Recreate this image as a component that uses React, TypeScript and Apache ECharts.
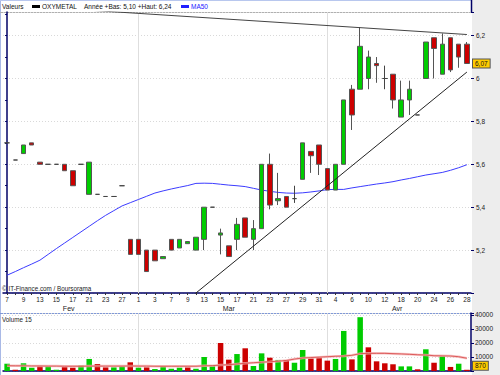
import React, { useEffect, useRef } from "react";
import * as echarts from "echarts";

// ---- data ----
const dates = [
  "2006-02-07","2006-02-08","2006-02-09","2006-02-10","2006-02-13","2006-02-14","2006-02-15","2006-02-16",
  "2006-02-17","2006-02-20","2006-02-21","2006-02-22","2006-02-23","2006-02-24","2006-02-27","2006-02-28",
  "2006-03-01","2006-03-02","2006-03-03","2006-03-06","2006-03-07","2006-03-08","2006-03-09","2006-03-10",
  "2006-03-13","2006-03-14","2006-03-15","2006-03-16","2006-03-17","2006-03-20","2006-03-21","2006-03-22",
  "2006-03-23","2006-03-24","2006-03-27","2006-03-28","2006-03-29","2006-03-30","2006-03-31",
  "2006-04-03","2006-04-04","2006-04-05","2006-04-06","2006-04-07","2006-04-10","2006-04-11","2006-04-12",
  "2006-04-13","2006-04-18","2006-04-19","2006-04-20","2006-04-21","2006-04-24","2006-04-25","2006-04-26",
  "2006-04-27","2006-04-28",
];

const opens = [
  5.70, 5.62, 5.65, 5.70, 5.61, 5.60, 5.60, 5.60, 5.57, 5.60, 5.46, 5.46, 5.45, 5.45, 5.50, 5.25,
  5.25, 5.20, 5.20, 5.16, 5.25, 5.21, 5.23, 5.20, 5.25, 5.40, 5.27, 5.22, 5.25, 5.35, 5.25, 5.30,
  5.60, 5.43, 5.45, 5.44, 5.53, 5.66, 5.69, 5.58, 5.48, 5.60, 5.95, 5.95, 6.00, 6.07, 6.00, 6.02,
  5.82, 5.90, 5.83, 6.00, 6.19, 6.02, 6.19, 6.16, 6.16,
];
const closes = [
  5.70, 5.62, 5.69, 5.69, 5.60, 5.60, 5.60, 5.57, 5.50, 5.60, 5.61, 5.46, 5.45, 5.45, 5.50, 5.18,
  5.18, 5.10, 5.15, 5.17, 5.20, 5.25, 5.24, 5.26, 5.40, 5.40, 5.28, 5.17, 5.32, 5.26, 5.30, 5.60,
  5.41, 5.44, 5.40, 5.44, 5.70, 5.64, 5.60, 5.48, 5.60, 5.90, 5.83, 6.15, 6.10, 6.06, 6.00, 5.90,
  5.90, 5.95, 5.83, 6.17, 6.14, 6.16, 6.04, 6.10, 6.07,
];
const lows = [
  5.70, 5.62, 5.65, 5.69, 5.60, 5.60, 5.60, 5.57, 5.50, 5.60, 5.46, 5.46, 5.45, 5.45, 5.50, 5.18,
  5.18, 5.10, 5.15, 5.16, 5.20, 5.21, 5.23, 5.20, 5.20, 5.40, 5.18, 5.17, 5.20, 5.26, 5.20, 5.30,
  5.39, 5.41, 5.40, 5.42, 5.53, 5.56, 5.55, 5.48, 5.48, 5.60, 5.76, 5.95, 5.95, 5.98, 5.95, 5.86,
  5.82, 5.83, 5.83, 6.00, 6.00, 6.02, 6.03, 6.05, 6.07,
];
const highs = [
  5.70, 5.62, 5.69, 5.70, 5.61, 5.60, 5.60, 5.60, 5.57, 5.60, 5.61, 5.46, 5.45, 5.45, 5.50, 5.25,
  5.25, 5.20, 5.20, 5.17, 5.25, 5.25, 5.24, 5.26, 5.40, 5.40, 5.30, 5.22, 5.35, 5.35, 5.34, 5.60,
  5.65, 5.56, 5.45, 5.50, 5.70, 5.66, 5.69, 5.58, 5.60, 5.90, 5.97, 6.24, 6.13, 6.10, 6.06, 6.02,
  5.99, 5.99, 5.83, 6.17, 6.19, 6.21, 6.19, 6.16, 6.17,
];
const ma50 = [
  5.083, 5.100, 5.118, 5.135, 5.153, 5.180, 5.207, 5.233, 5.259, 5.285, 5.311, 5.337, 5.362, 5.384,
  5.406, 5.421, 5.436, 5.451, 5.466, 5.476, 5.485, 5.493, 5.501, 5.511, 5.512, 5.511, 5.507, 5.503,
  5.500, 5.496, 5.488, 5.480, 5.474, 5.469, 5.466, 5.465, 5.467, 5.471, 5.476, 5.482, 5.483, 5.483,
  5.490, 5.496, 5.502, 5.508, 5.513, 5.519, 5.527, 5.534, 5.542, 5.550, 5.556, 5.562, 5.572, 5.584,
  5.598,
];
const volumes = [
  5200, 900, 5500, 2400, 3300, 3300, 900, 2900, 2400, 4000, 8600, 5000, 2600, 2600, 3300, 6200,
  2400, 2600, 1400, 3300, 1600, 2400, 2600, 1600, 10000, 4000, 20000, 8100, 12100, 16200, 3600, 12600,
  9500, 7900, 7900, 5900, 15000, 9000, 9500, 7400, 8600, 28600, 8300, 38400, 16900, 6900, 5500, 4800,
  3300, 3300, 1200, 15500, 5900, 10700, 2900, 5200, 870,
];
const volMa15 = [
  3800, 3700, 3700, 3600, 3600, 3500, 3500, 3400, 3400, 3400, 3500, 3500, 3500, 3500, 3500, 3600,
  3500, 3500, 3400, 3400, 3400, 3400, 3400, 3400, 3700, 3800, 4200, 4500, 5000, 5500, 5900, 6300,
  6600, 7000, 7500, 8500, 9300, 9600, 9900, 10200, 10500, 10700, 11200, 12400, 12600, 12600, 12600, 12400,
  12200, 11900, 11600, 11400, 10900, 10800, 10700, 10200, 9100,
];
// trend lines: value at first and at last trading day
const resistanceEnds = [6.343, 6.205];
const supportEnds = [4.282, 6.03];
const monthNames: Record<string, string> = { "01": "Jan", "02": "Fev", "03": "Mar", "04": "Avr", "05": "Mai" };

const FONT = "'Liberation Sans', Arial, sans-serif";
const GREEN = "#00cc00";
const RED = "#cc0000";
const NAVY = "#000066";

function fmtComma(v: number, d: number) {
  return v.toFixed(d).replace(".", ",");
}

export default function App() {
  const ref = useRef<HTMLDivElement>(null);

  useEffect(() => {
    document.body.style.margin = "0";
    if (!ref.current) return;
    const chart = echarts.init(ref.current, undefined, { renderer: "svg" });
    const n = dates.length;

    const candleData = dates.map((_, i) => [opens[i], closes[i], lows[i], highs[i]]);
    const volData = volumes.map((v, i) => ({
      value: v,
      itemStyle: { color: i === 0 || closes[i] >= closes[i - 1] ? GREEN : RED },
    }));
    const lastIdx = n - 1;
    const resistanceData = [[0, resistanceEnds[0]], [lastIdx, resistanceEnds[1]]];
    const supportData = [[0, supportEnds[0]], [lastIdx, supportEnds[1]]];

    // month groups
    const monthFirst: number[] = [];
    const monthMid: number[] = [];
    const monthLabel: string[] = [];
    let start = 0;
    for (let i = 1; i <= n; i++) {
      if (i === n || dates[i].slice(5, 7) !== dates[i - 1].slice(5, 7)) {
        monthMid.push((start + i - 1) / 2);
        monthLabel.push(monthNames[dates[start].slice(5, 7)] || "");
        if (start > 0) monthFirst.push(start);
        start = i;
      }
    }

    const low = Math.min(...lows);
    const high = Math.max(...highs);

    const monthLines = {
      silent: true,
      symbol: ["none", "none"],
      z: 1,
      label: { show: false },
      lineStyle: { color: "#dedede", type: "solid", width: 1 },
      data: monthFirst.map((i) => ({ xAxis: i })),
    };

    const valueBox = (text: string, offsetY: number) => ({
      show: true,
      position: "end",
      distance: 2,
      offset: [0, offsetY],
      formatter: text,
      backgroundColor: "#ffcc00",
      borderColor: "#555",
      borderWidth: 1,
      padding: [1, 2, 0, 2],
      color: "#111",
      fontSize: 6.5,
      fontFamily: FONT,
      opacity: 1,
    });

    const txt = (text: string, x: number, y: number, fill = "#111", size = 6.5) => ({
      type: "text",
      x,
      y,
      silent: true,
      style: { text, fill, fontSize: size, fontFamily: FONT, verticalAlign: "middle", align: "left" },
      z: 10,
    });

    const option: any = {
      animation: false,
      backgroundColor: "transparent",
      textStyle: { fontFamily: FONT },
      grid: [
        { left: 3, right: 29, top: 12, height: 281 },
        { left: 3, right: 29, top: 313, height: 58 },
      ],
      xAxis: [
        {
          type: "category",
          gridIndex: 0,
          data: dates,
          boundaryGap: true,
          axisLine: { show: true, lineStyle: { color: NAVY, width: 1.5 } },
          axisTick: { show: true, interval: 0, alignWithLabel: true, length: 2, lineStyle: { color: "#333" } },
          axisLabel: {
            interval: 1,
            margin: 3,
            fontSize: 6.5,
            color: "#222",
            fontFamily: FONT,
            formatter: (val: string) => String(Number(val.slice(8))),
          },
          splitLine: { show: false },
        },
        {
          type: "value",
          gridIndex: 0,
          position: "bottom",
          min: -0.5,
          max: n - 0.5,
          axisLine: { show: false },
          axisTick: { show: false },
          splitLine: { show: false },
          axisLabel: {
            customValues: monthMid,
            margin: 12,
            fontSize: 7,
            color: "#222",
            fontFamily: FONT,
            formatter: (v: number) => {
              const k = monthMid.findIndex((m) => Math.abs(m - v) < 1e-6);
              return k >= 0 ? monthLabel[k] : "";
            },
          },
        },
        {
          type: "category",
          gridIndex: 1,
          data: dates,
          boundaryGap: true,
          axisLine: { show: true, lineStyle: { color: NAVY, width: 1.5 } },
          axisTick: { show: false },
          axisLabel: { show: false },
          splitLine: { show: false },
        },
      ],
      yAxis: [
        {
          type: "value",
          gridIndex: 0,
          position: "right",
          min: 5,
          max: 6.31,
          interval: 0.1,
          axisLine: { show: true, lineStyle: { color: NAVY, width: 1.5 } },
          axisTick: { show: true, inside: true, length: 2, lineStyle: { color: NAVY } },
          axisLabel: {
            margin: 5,
            fontSize: 6.5,
            color: "#222",
            fontFamily: FONT,
            showMinLabel: false,
            showMaxLabel: false,
            formatter: (v: number) => {
              const t = Math.round(v * 10);
              if (Math.abs(v * 10 - t) > 1e-6 || t % 2 !== 0) return "";
              return String(t / 10).replace(".", ",");
            },
          },
          splitLine: { show: false },
        },
        {
          type: "value",
          gridIndex: 0,
          position: "right",
          min: 5,
          max: 6.31,
          interval: 0.2,
          axisLine: { show: false },
          axisLabel: { show: false },
          axisTick: { show: true, inside: false, length: 3, lineStyle: { color: NAVY } },
          splitLine: { show: true, lineStyle: { color: "#d9d9d9", type: [1, 2], width: 1 } },
        },
        {
          type: "value",
          gridIndex: 1,
          position: "right",
          min: 0,
          max: 41400,
          interval: 10000,
          axisLine: { show: true, lineStyle: { color: NAVY, width: 1.5 } },
          axisTick: { show: true, length: 3, lineStyle: { color: NAVY } },
          axisLabel: {
            margin: 4,
            fontSize: 6.5,
            color: "#222",
            fontFamily: FONT,
            formatter: (v: number) => (v > 0 && v % 10000 === 0 ? String(v) : ""),
          },
          splitLine: { show: true, lineStyle: { color: "#d9d9d9", type: [1, 2], width: 1 } },
        },
      ],
      series: [
        {
          name: "MA50",
          type: "line",
          xAxisIndex: 0,
          yAxisIndex: 0,
          data: ma50,
          symbol: "none",
          lineStyle: { color: "#3c3cff", width: 1 },
          z: 3,
          markLine: monthLines,
        },
        {
          name: "OXYMETAL",
          type: "candlestick",
          xAxisIndex: 0,
          yAxisIndex: 0,
          data: candleData,
          barWidth: 5,
          itemStyle: {
            color: GREEN,
            color0: RED,
            borderColor: "#555",
            borderColor0: "#555",
            borderColorDoji: "#444",
            borderWidth: 1,
          },
          z: 4,
          markLine: {
            silent: true,
            symbol: ["none", "none"],
            z: 10,
            lineStyle: { color: "rgba(0,0,0,0)", width: 1, type: "solid" },
            label: valueBox(fmtComma(closes[lastIdx], 2), 0),
            data: [{ yAxis: closes[lastIdx] }],
          },
        },
        {
          name: "resistance",
          type: "line",
          xAxisIndex: 0,
          yAxisIndex: 0,
          data: resistanceData,
          symbol: "none",
          clip: true,
          lineStyle: { color: "#444", width: 1 },
          z: 5,
        },
        {
          name: "support",
          type: "line",
          xAxisIndex: 0,
          yAxisIndex: 0,
          data: supportData,
          symbol: "none",
          clip: true,
          lineStyle: { color: "#222", width: 1 },
          z: 5,
        },
        {
          name: "Volume",
          type: "bar",
          xAxisIndex: 2,
          yAxisIndex: 2,
          data: volData,
          barWidth: 5.5,
          z: 3,
          markLine: monthLines,
        },
        {
          name: "volGlow",
          type: "line",
          xAxisIndex: 2,
          yAxisIndex: 2,
          data: volMa15,
          symbol: "none",
          lineStyle: { color: "#f4b4b4", width: 2.5, opacity: 0.8 },
          z: 4,
        },
        {
          name: "Volume 15",
          type: "line",
          xAxisIndex: 2,
          yAxisIndex: 2,
          data: volMa15,
          symbol: "none",
          lineStyle: { color: "#d64040", width: 0.8 },
          z: 5,
          markLine: {
            silent: true,
            symbol: ["none", "none"],
            z: 10,
            lineStyle: { color: "rgba(0,0,0,0)", width: 1, type: "solid" },
            label: valueBox(String(volumes[lastIdx]), -4),
            data: [{ yAxis: volumes[lastIdx] }],
          },
        },
      ],
      graphic: [
        { type: "line", silent: true, shape: { x1: 0.5, y1: 0, x2: 0.5, y2: 375 }, style: { stroke: "#a9b9e6", lineWidth: 1 } },
        { type: "line", silent: true, shape: { x1: 0, y1: 0.5, x2: 472, y2: 0.5 }, style: { stroke: "#b8c7ee", lineWidth: 1 } },
        { type: "line", silent: true, shape: { x1: 471.5, y1: 0, x2: 471.5, y2: 12 }, style: { stroke: NAVY, lineWidth: 1.5 } },
        { type: "line", silent: true, shape: { x1: 0, y1: 12.5, x2: 471, y2: 12.5 }, style: { stroke: "#b0b0b0", lineWidth: 1 } },
        { type: "line", silent: true, shape: { x1: 0, y1: 313.5, x2: 472, y2: 313.5 }, style: { stroke: "#7f98d8", lineWidth: 1 } },
        txt("Valeurs", 2, 6.5),
        { type: "rect", silent: true, shape: { x: 32, y: 5, width: 8, height: 3 }, style: { fill: "#000" } },
        txt("OXYMETAL", 42, 6.5),
        txt(`Année +Bas: ${fmtComma(low, 2)} +Haut: ${fmtComma(high, 2)}`, 84, 6.5),
        { type: "rect", silent: true, shape: { x: 181, y: 5, width: 8, height: 3 }, style: { fill: "#2020ff" } },
        txt("MA50", 191, 6.5, "#2020ff"),
        txt("© IT-Finance.com / Boursorama", 2, 288.5, "#222", 6.3),
        txt("Volume 15", 2, 319.5, "#222", 6.3),
      ],
    };

    chart.setOption(option);
    return () => chart.dispose();
  }, []);

  return (
    <div
      ref={ref}
      style={{
        width: 500,
        height: 375,
        background: "linear-gradient(to right, #ffffff 0px, #ffffff 472px, #ededed 472px, #ededed 500px)",
      }}
    />
  );
}
